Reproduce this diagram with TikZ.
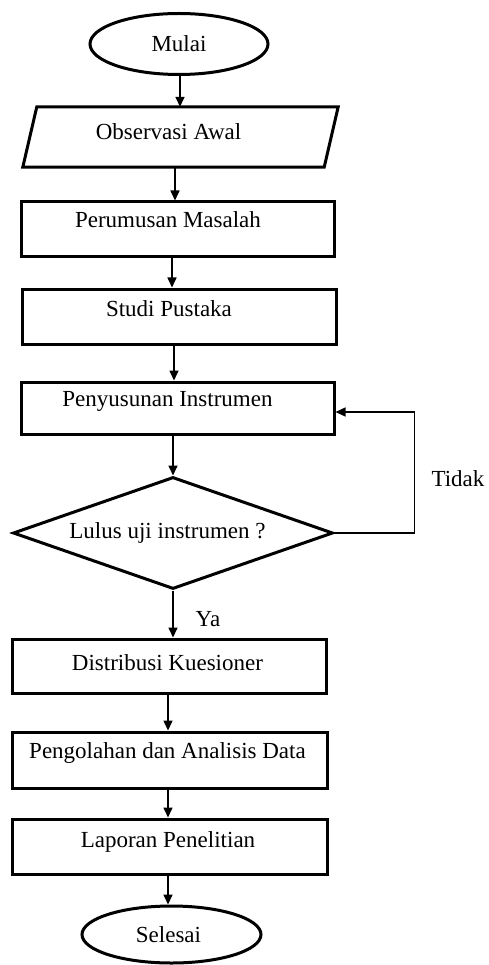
\documentclass[tikz,border=0pt]{standalone}
\usepackage{fontspec}
\setmainfont{Liberation Serif}
\usetikzlibrary{shapes.geometric,arrows.meta}
\newcommand{\fs}{\fontsize{23}{27}\selectfont}
\tikzset{
  procbox/.style={draw, rectangle, line width=3pt, inner sep=0pt, font=\fs},
  termbox/.style={draw, ellipse, line width=3pt, inner sep=0pt, font=\fs},
  decbox/.style={draw, diamond, line width=3pt, inner sep=0pt, font=\fs},
  arr/.style={line width=1.6pt, -{Triangle[length=10pt,width=9pt]}},
  fbarr/.style={line width=1.4pt, -{Triangle[length=10pt,width=9pt]}},
  lbl/.style={inner sep=0pt, font=\fs}
}
\begin{document}
\begin{tikzpicture}[x=1pt,y=-1pt]
\useasboundingbox (0,0) rectangle (488,965);

\node[termbox, minimum width=178pt, minimum height=61pt] (mulai) at (179,44) {Mulai};

\node[rectangle, inner sep=0pt, minimum width=301pt, minimum height=60pt,
      text height=33pt, text depth=27pt, font=\fs] (obs) at (180.5,137) {Observasi Awal\kern24pt};
\draw[line width=3pt, line join=miter]
  ([xshift=7pt]obs.north west) -- ([xshift=7pt]obs.north east) --
  ([xshift=-7pt]obs.south east) -- ([xshift=-7pt]obs.south west) -- cycle;

\node[procbox, minimum width=313pt, minimum height=55pt, text height=25.7pt, text depth=29.3pt]
  (perum) at (177.5,229.5) {Perumusan Masalah\kern19pt};
\node[procbox, minimum width=314pt, minimum height=55pt, text height=27pt, text depth=28pt]
  (studi) at (179,316.5) {Studi Pustaka\kern20pt};
\node[procbox, minimum width=313pt, minimum height=52pt, text height=24.7pt, text depth=27.3pt]
  (peny) at (177.5,408) {Penyusunan Instrumen\kern20pt};

\node[decbox, aspect=2.857, minimum width=320pt, minimum height=112pt]
  (dec) at (173,533) {Lulus uji instrumen ?\kern11pt};

\node[procbox, minimum width=314pt, minimum height=54pt, text height=31.7pt, text depth=22.3pt]
  (dist) at (169,666) {Distribusi Kuesioner\kern3pt};
\node[procbox, minimum width=315pt, minimum height=56pt, text height=26pt, text depth=30pt]
  (olah) at (169.5,760) {Pengolahan dan Analisis Data\kern4pt};
\node[procbox, minimum width=315pt, minimum height=55pt, text height=28pt, text depth=27pt]
  (lapor) at (169.5,846.5) {Laporan Penelitian\kern3pt};

\node[termbox, minimum width=179pt, minimum height=57pt] (selesai) at (171.5,934.5) {Selesai\kern6pt};

\node[lbl] (tidak) at (458,479) {Tidak};
\node[lbl] (ya) at (208,619) {Ya};

\draw[arr] ([xshift=1pt]mulai.south) -- ([xshift=1pt]mulai.south |- obs.north);
\draw[arr] ([xshift=-5.5pt]obs.south) -- ([xshift=-5.5pt]obs.south |- perum.north);
\draw[arr] ([xshift=-5.5pt]perum.south) -- ([xshift=-5.5pt]perum.south |- studi.north);
\draw[arr] ([xshift=-5pt]studi.south) -- ([xshift=-5pt]studi.south |- peny.north);
\draw[arr] (dec.north |- peny.south) -- (dec.north);
\draw[arr] (dec.south) -- (dec.south |- dist.north);
\draw[arr] ([xshift=-1pt]dist.south) -- ([xshift=-1pt]dist.south |- olah.north);
\draw[arr] ([xshift=-1.5pt]olah.south) -- ([xshift=-1.5pt]olah.south |- lapor.north);
\draw[arr] ([xshift=-1.5pt]lapor.south) -- ([xshift=-1.5pt]lapor.south |- selesai.north);
\draw[fbarr] (dec.east) -- ++(80,0) |- ([yshift=-4pt]peny.east);
\end{tikzpicture}
\end{document}
